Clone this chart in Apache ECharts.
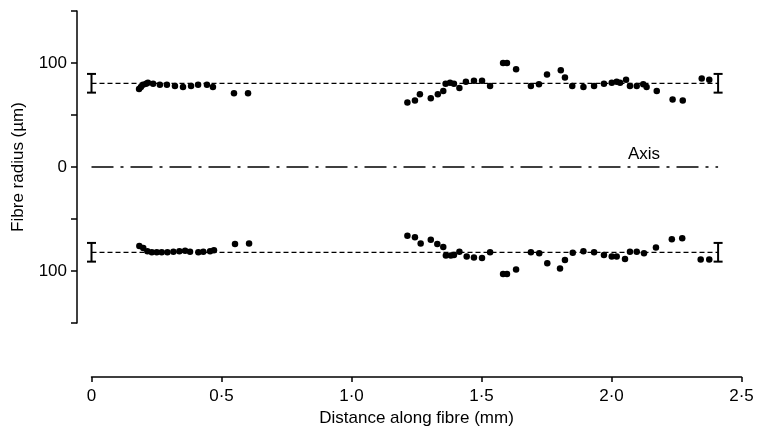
<!DOCTYPE html>
<html>
<head>
<meta charset="utf-8">
<script src="https://cdn.jsdelivr.net/npm/echarts@6/dist/echarts.min.js"></script>
<style>
  html, body { margin: 0; padding: 0; background: #fff; }
  #chart { width: 757px; height: 433px; }
</style>
</head>
<body>
<div id="chart"></div>
<script>
// outer edge of the fibre, distance (mm) vs radius (µm)
const upperX = [0.183, 0.19, 0.198, 0.21, 0.217, 0.237, 0.263, 0.29, 0.321, 0.352, 0.383, 0.41, 0.444, 0.467, 0.548, 0.602,
  1.215, 1.244, 1.263, 1.305, 1.332, 1.353, 1.362, 1.379, 1.394, 1.415, 1.44, 1.471, 1.502, 1.533, 1.583, 1.598, 1.633, 1.69, 1.721, 1.752,
  1.805, 1.821, 1.849, 1.892, 1.933, 1.971, 2.001, 2.02, 2.033, 2.056, 2.071, 2.097, 2.122, 2.135, 2.174, 2.235, 2.274, 2.347, 2.376];
const upperY = [75, 77, 79, 80, 81, 80, 79, 79, 78, 77, 78, 79, 79, 77, 71, 71,
  62, 64, 70, 66, 70, 73, 80, 81, 80, 76, 82, 83, 83, 78, 100, 100, 94, 78, 79.5, 89,
  93, 86, 78, 77, 78, 80, 81, 82, 81, 84, 78, 78, 79.5, 77, 73, 65, 64, 85, 84];

const lowerX = [0.184, 0.199, 0.215, 0.232, 0.251, 0.27, 0.292, 0.315, 0.338, 0.36, 0.379, 0.411, 0.43, 0.456, 0.471, 0.552, 0.606,
  1.215, 1.244, 1.266, 1.305, 1.33, 1.353, 1.363, 1.382, 1.394, 1.415, 1.443, 1.471, 1.502, 1.533, 1.583, 1.598, 1.633, 1.69, 1.722, 1.753,
  1.802, 1.821, 1.851, 1.892, 1.933, 1.971, 2.001, 2.02, 2.052, 2.071, 2.097, 2.125, 2.171, 2.232, 2.272, 2.343, 2.376];
const lowerY = [-76, -78, -81, -82, -82, -82, -82, -81.5, -81, -80.5, -81.5, -82, -81.5, -81, -80, -74, -73.5,
  -66, -67.5, -73.5, -70, -74, -77, -85, -85, -84.5, -81.5, -86, -87, -87.5, -82, -103, -103, -98.5, -82, -83, -92.5,
  -97.5, -89.5, -82.5, -81, -82, -84.5, -86, -86, -88.5, -81.5, -81.5, -83, -77.5, -69.5, -68.5, -89, -89];

// mean radius lines and their error bars
const meanUpper = 80.5;
const meanLower = -82;
const errHalf = 9;
const errX = [0, 2.41];
const axisLabelAt = [2.125, 0];

const xTicks = [0, 0.5, 1, 1.5, 2, 2.5];

const zip = (xs, ys) => xs.map((x, i) => [x, ys[i]]);
const font = "'Liberation Sans', Arial, sans-serif";
const ink = "#000";

const errData = [];
errX.forEach((x) => {
  errData.push([x, meanUpper - errHalf, meanUpper + errHalf]);
  errData.push([x, meanLower - errHalf, meanLower + errHalf]);
});

const chart = echarts.init(document.getElementById("chart"), null, { renderer: "canvas" });

chart.setOption({
  animation: false,
  backgroundColor: "#fff",
  grid: { left: 91.5, width: 650, top: 11, height: 312 },
  xAxis: {
    type: "value", min: 0, max: 2.5, interval: 0.5, offset: 54,
    name: "Distance along fibre (mm)", nameLocation: "middle", nameGap: 32,
    nameTextStyle: { color: ink, fontSize: 17, fontFamily: font },
    axisLine: { onZero: false, lineStyle: { color: ink, width: 1.5 } },
    axisTick: { inside: false, length: 5, lineStyle: { color: ink, width: 1.5 } },
    axisLabel: {
      color: ink, fontSize: 17, fontFamily: font, margin: 11,
      formatter: (v) => xTicks.includes(v) ? (v === 0 ? "0" : v.toFixed(1).replace(".", "·")) : ""
    },
    splitLine: { show: false }
  },
  yAxis: {
    type: "value", min: -150, max: 150, interval: 50, offset: 14.5,
    name: "Fibre radius (µm)", nameLocation: "middle", nameGap: 50,
    nameTextStyle: { color: ink, fontSize: 17, fontFamily: font },
    axisLine: { onZero: false, lineStyle: { color: ink, width: 1.5 } },
    axisTick: { length: 6, lineStyle: { color: ink, width: 1.5 } },
    axisLabel: {
      color: ink, fontSize: 17, fontFamily: font, margin: 10,
      formatter: (v) => (v === 100 || v === -100) ? "100" : (v === 0 ? "0" : "")
    },
    splitLine: { show: false }
  },
  series: [
    {
      type: "line", data: [[errX[0], meanUpper], [errX[1], meanUpper]],
      symbol: "none", silent: true,
      lineStyle: { color: ink, width: 1.2, type: [5, 3] }
    },
    {
      type: "line", data: [[errX[0], meanLower], [errX[1], meanLower]],
      symbol: "none", silent: true,
      lineStyle: { color: ink, width: 1.2, type: [5, 3] }
    },
    {
      type: "line", data: [[errX[0], 0], [errX[1], 0]],
      symbol: "none", silent: true,
      lineStyle: { color: ink, width: 1.3, type: [22, 7, 3, 7] }
    },
    {
      type: "scatter", data: [axisLabelAt], symbolSize: 1, silent: true,
      itemStyle: { opacity: 0 },
      label: { show: true, position: "top", distance: 4, formatter: "Axis", color: ink, opacity: 1, fontSize: 17, fontFamily: font }
    },
    {
      type: "custom", data: errData,
      renderItem: (params, api) => {
        const x = api.value(0);
        const lo = api.coord([x, api.value(1)]);
        const hi = api.coord([x, api.value(2)]);
        const cap = 4.5;
        const style = { stroke: ink, lineWidth: 2 };
        return {
          type: "group",
          children: [
            { type: "line", shape: { x1: lo[0], y1: lo[1], x2: hi[0], y2: hi[1] }, style },
            { type: "line", shape: { x1: lo[0] - cap, y1: lo[1], x2: lo[0] + cap, y2: lo[1] }, style },
            { type: "line", shape: { x1: hi[0] - cap, y1: hi[1], x2: hi[0] + cap, y2: hi[1] }, style }
          ]
        };
      }
    },
    {
      type: "scatter", data: zip(upperX, upperY), symbolSize: 6.5,
      itemStyle: { color: ink, opacity: 1 }
    },
    {
      type: "scatter", data: zip(lowerX, lowerY), symbolSize: 6.5,
      itemStyle: { color: ink, opacity: 1 }
    }
  ]
});
</script>
</body>
</html>
